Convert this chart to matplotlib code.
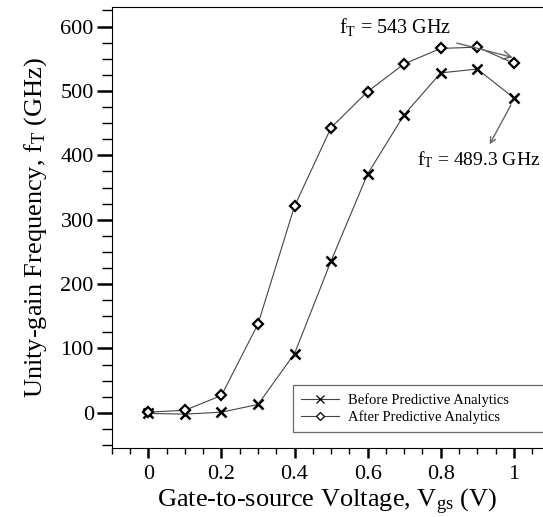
import matplotlib
matplotlib.use("Agg")
import matplotlib.pyplot as plt
from matplotlib.ticker import MultipleLocator

plt.rcParams["font.family"] = ["Liberation Serif", "DejaVu Serif"]
plt.rcParams["mathtext.fontset"] = "custom"
plt.rcParams["mathtext.rm"] = "Liberation Serif"
plt.rcParams["mathtext.it"] = "Liberation Serif:italic"

vgs = [0, 0.1, 0.2, 0.3, 0.4, 0.5, 0.6, 0.7, 0.8, 0.9, 1.0]
ft_before = [-1, -2, 1, 13, 92, 236, 371, 463, 528, 534, 489.3]
ft_after = [1, 4, 27, 138, 321, 443, 499, 542, 566, 568, 543]

fig = plt.figure(figsize=(5.43, 5.17), dpi=100)
ax = fig.add_axes([0.206, 0.133, 0.794, 0.853])

ax.plot(vgs, ft_before, color="#444444", lw=0.8, marker="x", ms=7, mew=1.8,
        mec="black", label="Before Predictive Analytics")
ax.plot(vgs, ft_after, color="#444444", lw=0.8, marker="D", ms=5, mew=1.6,
        mec="black", mfc="white", label="After Predictive Analytics")

ax.set_xlim(-0.1, 1.08)
ax.set_ylim(-55, 630)
ax.xaxis.set_minor_locator(MultipleLocator(0.05))
ax.yaxis.set_minor_locator(MultipleLocator(25))
ax.set_xticks([0, 0.2, 0.4, 0.6, 0.8, 1.0])
ax.set_xticklabels(["0", "0.2", "0.4", "0.6", "0.8", "1"])
ax.set_yticks([0, 100, 200, 300, 400, 500, 600])

ax.spines["right"].set_visible(False)
ax.tick_params(axis="both", which="both", direction="out", labelsize=16, colors="black")
ax.tick_params(axis="y", which="major", length=11, width=1.8, pad=2)
ax.tick_params(axis="y", which="minor", length=7, width=1.0)
ax.tick_params(axis="x", which="major", length=7, width=1.8, pad=5)
ax.tick_params(axis="x", which="minor", length=4, width=1.0)

ax.set_xlabel(r"Gate-to-source Voltage, V$_\mathrm{gs}$ (V)", fontsize=19, labelpad=2)
ax.set_ylabel(r"Unity-gain Frequency, f$_\mathrm{T}$ (GHz)", fontsize=19, labelpad=8)

ax.annotate(r"f$_\mathrm{T}$ = 543 GHz", xy=(0.997, 552), xytext=(0.676, 599),
            fontsize=14.5, ha="center", va="center",
            arrowprops=dict(arrowstyle="->", color="#666666", lw=1.0,
                            shrinkA=6, shrinkB=0))
ax.text(0.903, 393, r"f$_\mathrm{T}$ = 489.3 GHz", fontsize=14, ha="center", va="center")
ax.annotate("", xy=(0.934, 417), xytext=(0.992, 478),
            arrowprops=dict(arrowstyle="->", color="#666666", lw=1.0,
                            shrinkA=0, shrinkB=0))

# legend box runs off the right edge like in the source figure
leg = ax.legend(loc="lower left", mode="expand", fontsize=10.5, frameon=True,
                fancybox=False, edgecolor="#444444", handlelength=2.6,
                handletextpad=0.6, borderpad=0.55, labelspacing=0.25,
                markerscale=0.8, bbox_to_anchor=(0.404, 0.02, 0.66, 0.11))
leg.get_frame().set_linewidth(0.9)
for h in leg.legend_handles:
    h.set_markeredgewidth(0.9)
    h.set_linewidth(0.8)

fig.savefig("out.png", dpi=100)
